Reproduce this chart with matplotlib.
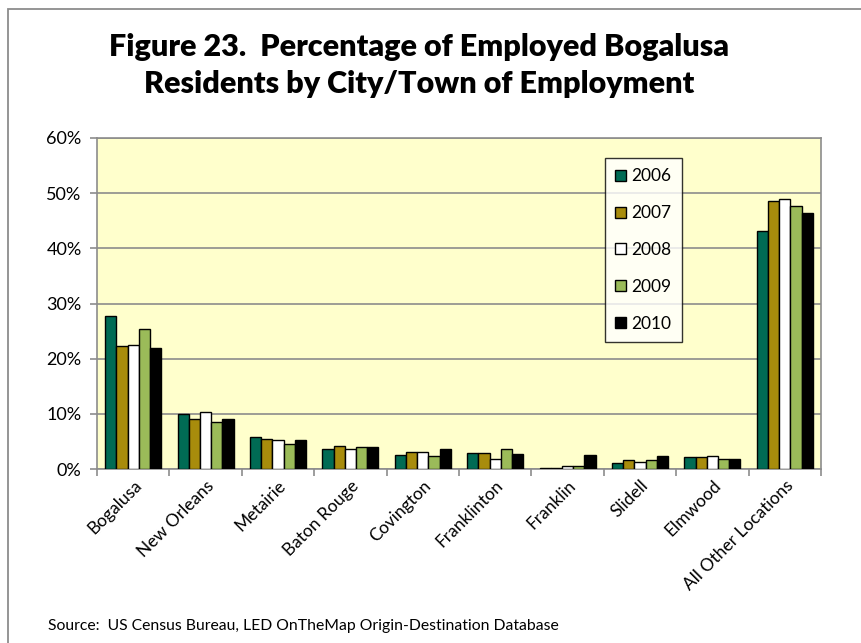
import matplotlib
matplotlib.use("Agg")
import matplotlib.pyplot as plt
from matplotlib.patches import Rectangle, Patch
from matplotlib.ticker import FixedLocator, PercentFormatter
import numpy as np

plt.rcParams['font.family'] = ['Lato', 'DejaVu Sans']

categories = ["Bogalusa", "New Orleans", "Metairie", "Baton Rouge", "Covington",
              "Franklinton", "Franklin", "Slidell", "Elmwood", "All Other Locations"]
years = ["2006", "2007", "2008", "2009", "2010"]

v2006 = [27.8, 10.0, 5.8, 3.7, 2.6, 2.9, 0.2, 1.1, 2.1, 43.1]
v2007 = [22.3, 9.0, 5.5, 4.2, 3.1, 2.9, 0.2, 1.6, 2.1, 48.6]
v2008 = [22.5, 10.3, 5.3, 3.7, 3.1, 1.8, 0.5, 1.3, 2.4, 48.9]
v2009 = [25.4, 8.5, 4.5, 4.0, 2.3, 3.7, 0.5, 1.6, 1.8, 47.6]
v2010 = [22.0, 9.0, 5.3, 4.0, 3.7, 2.7, 2.5, 2.4, 1.9, 46.4]

series = [v2006, v2007, v2008, v2009, v2010]
colors = ["#006B54", "#A88C0C", "#FFFFFF", "#9BBB59", "#000000"]

fig = plt.figure(figsize=(8.61, 6.43), dpi=100)
W, H = 861, 643

# outer chart frame
fig.patches.append(Rectangle((8 / W, -0.05), 1.2, 1 - 9 / H + 0.05,
                             transform=fig.transFigure, fill=False,
                             edgecolor="#8C8C8C", linewidth=1.3))

ax = fig.add_axes([97 / W, 1 - 469 / H, (821 - 97) / W, (469 - 138) / H])
ax.set_facecolor("#FFFFCC")

x = np.arange(len(categories))
bw = 0.155
for i, (vals, col, yr) in enumerate(zip(series, colors, years)):
    ax.bar(x + (i - 2) * bw, vals, width=bw, color=col, edgecolor="black",
           linewidth=1.0, label=yr, zorder=3)

ax.set_xlim(-0.5, len(categories) - 0.5)
ax.set_ylim(0, 60)
ax.set_yticks(np.arange(0, 61, 10))
ax.yaxis.set_major_formatter(PercentFormatter(decimals=0))
ax.grid(axis="y", color="#8C8C8C", linewidth=1.2, zorder=0)
ax.set_axisbelow(True)

# category ticks sit between groups; labels at group centers
ax.xaxis.set_major_locator(FixedLocator(np.arange(-0.5, len(categories), 1.0)))
ax.xaxis.set_major_formatter(plt.NullFormatter())
ax.xaxis.set_minor_locator(FixedLocator(x))
ax.set_xticklabels(categories, minor=True, rotation=45, ha="right",
                   rotation_mode="anchor", fontsize=12.5)
ax.tick_params(axis="x", which="minor", length=0, pad=6)
ax.tick_params(axis="x", which="major", length=5, color="#8C8C8C", width=1.2)
ax.tick_params(axis="y", length=5, color="#8C8C8C", width=1.2, labelsize=13, pad=6)

for s in ax.spines.values():
    s.set_color("#8C8C8C")
    s.set_linewidth(1.2)

handles = [Patch(facecolor=c, edgecolor="black", linewidth=1.0) for c in colors]
leg = ax.legend(handles, years, loc="upper left", bbox_to_anchor=(0.7017, 0.9396),
                fontsize=12.5, frameon=True, fancybox=False, edgecolor="black",
                handlelength=0.6, handleheight=0.6, handletextpad=0.3,
                labelspacing=1.2, borderpad=0.6, borderaxespad=0)
leg.get_frame().set_linewidth(1.0)

fig.text(419 / W, 1 - 47 / H, "Figure 23.  Percentage of Employed Bogalusa",
         ha="center", va="center", fontsize=22, fontweight="heavy")
fig.text(419 / W, 1 - 84 / H, "Residents by City/Town of Employment",
         ha="center", va="center", fontsize=22, fontweight="heavy")

fig.text(48 / W, 1 - 626 / H,
         "Source:  US Census Bureau, LED OnTheMap Origin-Destination Database",
         ha="left", va="center", fontsize=11.3)

fig.savefig("out.png", dpi=100)
